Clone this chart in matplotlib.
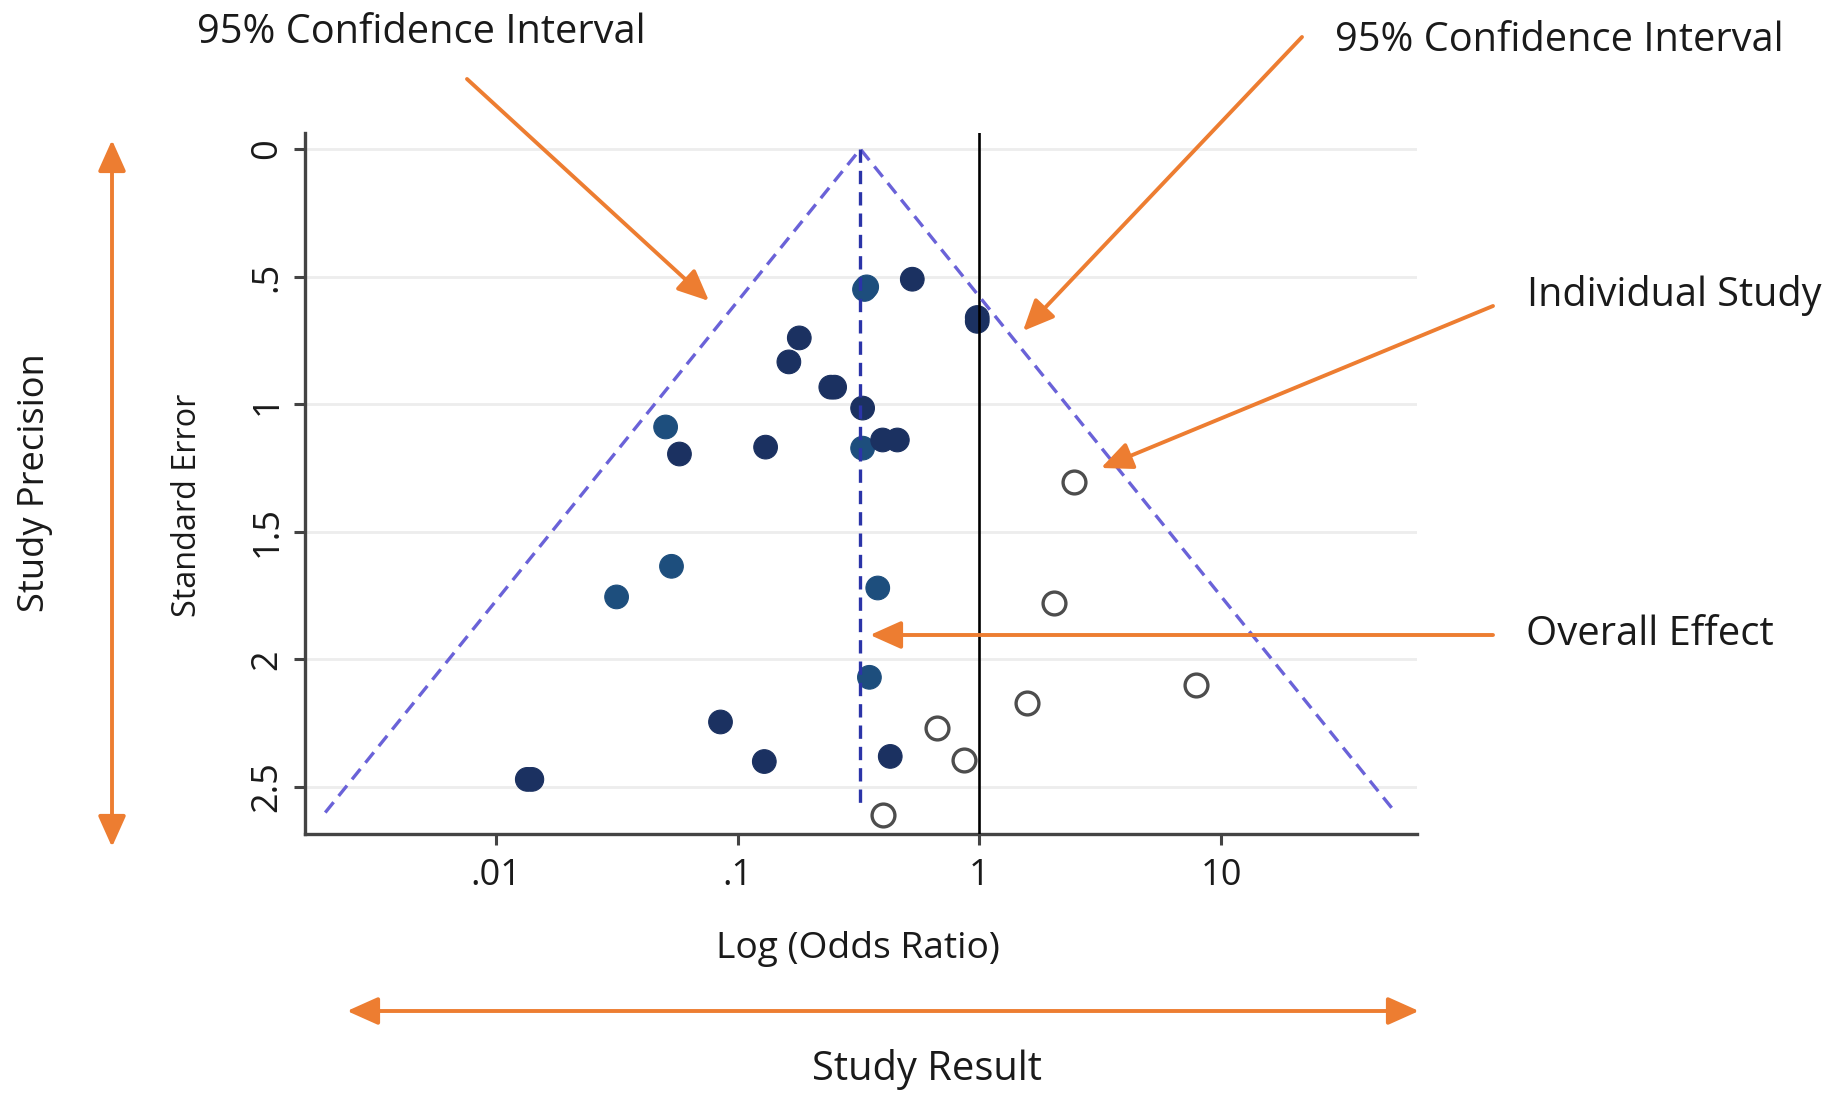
import matplotlib
matplotlib.use("Agg")
import matplotlib.pyplot as plt
import numpy as np

W, H, DPI = 1832, 1096, 100

# ---------------- data ----------------
pooled_or = 0.322          # overall effect (odds ratio)
funnel_se_max = 2.6        # funnel drawn down to this standard error

filled_or = [0.335, 0.342, 0.528, 0.98, 0.98, 0.18, 0.163, 0.243, 0.252, 0.329,
             0.0504, 0.0575, 0.1306, 0.329, 0.398, 0.458,
             0.0533, 0.0316, 0.38, 0.351, 0.085, 0.129, 0.428, 0.0135, 0.0141]
filled_se = [0.55, 0.54, 0.51, 0.66, 0.675, 0.74, 0.834, 0.933, 0.933, 1.015,
             1.089, 1.195, 1.168, 1.172, 1.14, 1.14,
             1.635, 1.755, 1.72, 2.07, 2.245, 2.40, 2.38, 2.47, 2.47]
filled_tone = ["teal", "teal", "navy", "navy", "navy", "navy", "navy", "navy", "navy", "navy",
               "teal", "navy", "navy", "teal", "navy", "navy",
               "teal", "teal", "teal", "teal", "navy", "navy", "navy", "navy", "navy"]

open_or = [2.47, 2.04, 7.88, 1.58, 0.67, 0.86, 0.398]
open_se = [1.305, 1.78, 2.10, 2.17, 2.27, 2.395, 2.61]

ytick_vals = [0, 0.5, 1, 1.5, 2, 2.5]
ytick_labels = ["0", ".5", "1", "1.5", "2", "2.5"]
xtick_vals = [0.01, 0.1, 1, 10]
xtick_labels = [".01", ".1", "1", "10"]

label_ci = "95% Confidence Interval"
label_study = "Individual Study"
label_overall = "Overall Effect"
xlabel = "Log (Odds Ratio)"
ylabel = "Standard Error"
outer_x = "Study Result"
outer_y = "Study Precision"

# ---------------- style ----------------
plt.rcParams['font.family'] = ['Open Sans', 'DejaVu Sans']
TXT = "#1a1a1a"
ORANGE = "#ed7d31"
tone_color = {"navy": "#1b3161", "teal": "#1d4e7d"}

fig = plt.figure(figsize=(W / DPI, H / DPI), dpi=DPI)
fig.patch.set_facecolor("white")

def fx(x):
    return x / W

def fy(y):
    return 1 - y / H

# axes box in pixels (top-left origin)
L, R, T, B = 305, 1417, 133, 834
ax = fig.add_axes([fx(L), fy(B), fx(R) - fx(L), fy(T) - fy(B)])
ax.set_xscale("log")
ax.set_xlim(10 ** -2.789, 10 ** 1.81)
ax.set_ylim(2.684, -0.063)

for v in ytick_vals:
    ax.axhline(v, color="#ededed", lw=2.0, zorder=0)

ax.axvline(1, color="black", lw=1.9, zorder=4)

# points
cols = [tone_color[t] for t in filled_tone]
ax.scatter(filled_or, filled_se, s=290, c=cols, edgecolors=cols,
           linewidths=0.8, zorder=3)
ax.scatter(open_or, open_se, s=270, facecolors="white", edgecolors="#4d4d4d",
           linewidths=2.4, zorder=3)

# funnel (pseudo 95% CI limits)
se_line = np.array([funnel_se_max, 0.0, funnel_se_max])
or_line = pooled_or * np.exp(np.array([-1.96, 0.0, 1.96]) * se_line)
ax.plot(or_line, se_line, color="#6a62d8", lw=2.4, ls=(0, (4, 2.4)), zorder=5)
ax.plot([pooled_or, pooled_or], [0, funnel_se_max - 0.02], color="#2b34a8",
        lw=2.4, ls=(0, (4, 2.4)), zorder=5)

ax.set_xticks(xtick_vals)
ax.set_xticklabels(xtick_labels)
ax.xaxis.set_minor_locator(matplotlib.ticker.NullLocator())
ax.set_yticks(ytick_vals)
ax.set_yticklabels(ytick_labels, rotation=90, va="center")
ax.tick_params(axis="both", direction="out", length=8, width=2.2, color="#444444",
               labelsize=26, labelcolor=TXT)
ax.tick_params(axis="x", pad=9)
ax.tick_params(axis="y", pad=6)
for s in ["top", "right"]:
    ax.spines[s].set_visible(False)
for s in ["left", "bottom"]:
    ax.spines[s].set_linewidth(2.4)
    ax.spines[s].set_color("#444444")

renderer = fig.canvas.get_renderer()

def fit_text(x, y, s, target, rotation=0, **kw):
    t = fig.text(fx(x), fy(y), s, fontsize=20, rotation=rotation, color=TXT, **kw)
    bb = t.get_window_extent(renderer)
    length = bb.height if rotation == 90 else bb.width
    t.set_fontsize(20 * target / length)
    return t

fit_text(197, 43, label_ci, 448, ha="left", va="baseline")
fit_text(1335, 51, label_ci, 448, ha="left", va="baseline")
fit_text(1527, 306, label_study, 294, ha="left", va="baseline")
fit_text(1526, 645, label_overall, 248, ha="left", va="baseline")
fit_text(858, 958, xlabel, 283, ha="center", va="baseline")
fit_text(927, 1080, outer_x, 230, ha="center", va="baseline")
fit_text(187, 505, ylabel, 223, rotation=90, ha="center", va="center")
fit_text(35, 483, outer_y, 258, rotation=90, ha="center", va="center")

def arrow(x0, y0, x1, y1, style="-|>"):
    fig.patches.append(matplotlib.patches.FancyArrowPatch(
        (fx(x0), fy(y0)), (fx(x1), fy(y1)), transform=fig.transFigure,
        arrowstyle=f"{style},head_length=19,head_width=8.5", mutation_scale=1,
        color=ORANGE, lw=2.8, shrinkA=0, shrinkB=0, figure=fig))

arrow(467, 79, 709, 301)
arrow(1302, 37, 1023, 331)
arrow(1493, 306, 1101, 468)
arrow(1493, 635, 870, 635)
arrow(112, 140, 112, 847, style="<|-|>")
arrow(347, 1011, 1419, 1011, style="<|-|>")

fig.savefig("out.png", dpi=DPI, facecolor="white")
